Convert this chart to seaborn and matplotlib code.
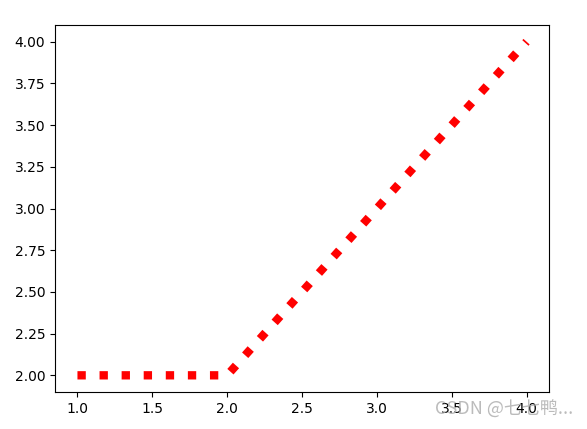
import matplotlib
matplotlib.use('Agg')
import matplotlib.pyplot as plt
import seaborn as sns
import pandas as pd

# Datos de la línea
x_vals = [1, 2, 4]
y_vals = [2, 2, 4]

df = pd.DataFrame({'x': x_vals, 'y': y_vals})

sns.set_style('ticks')
plt.rcParams['font.family'] = ['DejaVu Sans', 'Noto Sans CJK SC']

fig = plt.figure(figsize=(5.87, 4.29), dpi=100)
ax = fig.add_axes([55 / 587, 1 - 392 / 429, (549 - 55) / 587, (392 - 25) / 429])
sns.lineplot(data=df, x='x', y='y', color='red', linestyle=':', linewidth=6,
             sort=False, ax=ax)
ax.set_xlabel('')
ax.set_ylabel('')
ax.set_yticks([2.0, 2.25, 2.5, 2.75, 3.0, 3.25, 3.5, 3.75, 4.0])
ax.set_yticklabels(['2.00', '2.25', '2.50', '2.75', '3.00', '3.25', '3.50', '3.75', '4.00'])
for s in ax.spines.values():
    s.set_visible(True)
    s.set_color('black')
    s.set_linewidth(0.8)
ax.tick_params(colors='black', labelsize=10, length=3.5, width=0.8)

# marca de agua
fig.text(435 / 587, 1 - 410 / 429, 'CSDN @七七鸭...', ha='left', va='center', fontsize=13,
         color='#b0b0b0', alpha=0.85, family=['Noto Sans CJK SC', 'DejaVu Sans'])

fig.savefig('out.png', dpi=100)
